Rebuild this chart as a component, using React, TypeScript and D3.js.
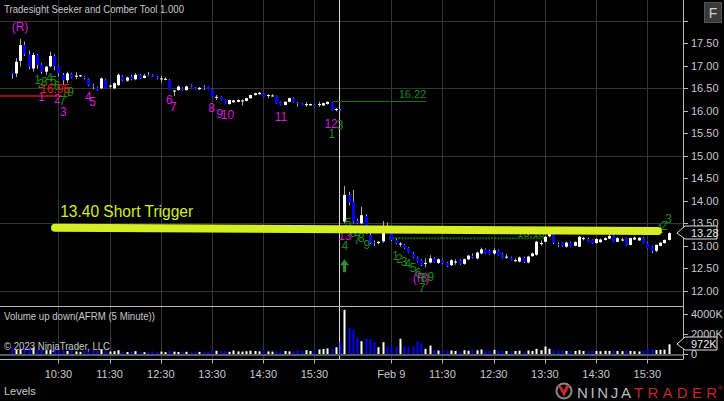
import React from 'react';
import * as d3 from 'd3';

// ---------- DATA ----------
// [open, high, low, close] 5-minute bars, Feb 8 (day 1) and Feb 9 (day 2)
const day1Bars: number[][] = [
  [16.86,16.87,16.71,16.82],[16.83,17.17,16.75,17.09],[17.11,17.60,16.98,17.46],[17.46,17.54,17.22,17.26],
  [17.26,17.34,16.92,16.98],[16.94,17.29,16.87,17.24],[17.24,17.26,16.93,17.02],[17.03,17.06,16.82,16.87],
  [16.87,17.00,16.80,16.98],[16.99,17.31,16.96,17.22],[17.22,17.26,16.90,16.99],[16.99,17.01,16.76,16.83],
  [16.80,16.84,16.57,16.68],[16.68,16.87,16.62,16.83],[16.82,16.84,16.72,16.74],[16.76,16.86,16.70,16.78],
  [16.77,16.80,16.75,16.79],[16.76,16.78,16.70,16.72],[16.70,16.72,16.55,16.57],[16.56,16.60,16.48,16.55],
  [16.52,16.54,16.45,16.47],[16.50,16.74,16.48,16.72],[16.70,16.72,16.50,16.50],[16.55,16.58,16.50,16.56],
  [16.50,16.63,16.48,16.61],[16.57,16.83,16.55,16.80],[16.76,16.79,16.65,16.67],[16.67,16.76,16.65,16.74],
  [16.76,16.80,16.68,16.70],[16.70,16.84,16.68,16.80],[16.80,16.82,16.71,16.73],[16.73,16.82,16.72,16.78],
  [16.80,16.86,16.77,16.78],[16.79,16.81,16.75,16.76],[16.76,16.78,16.70,16.72],[16.71,16.78,16.62,16.72],
  [16.70,16.74,16.68,16.71],[16.68,16.70,16.47,16.48],[16.45,16.46,16.33,16.45],[16.46,16.56,16.45,16.54],
  [16.50,16.52,16.45,16.46],[16.46,16.56,16.45,16.54],[16.57,16.59,16.52,16.54],[16.52,16.53,16.47,16.48],
  [16.48,16.53,16.46,16.51],[16.52,16.57,16.46,16.50],[16.53,16.54,16.47,16.48],[16.48,16.49,16.30,16.31],
  [16.30,16.35,16.24,16.31],[16.31,16.32,16.23,16.24],[16.24,16.25,16.16,16.17],[16.15,16.25,16.14,16.24],
  [16.19,16.24,16.18,16.23],[16.20,16.25,16.19,16.24],[16.23,16.25,16.11,16.23],[16.22,16.29,16.21,16.28],
  [16.28,16.36,16.27,16.35],[16.35,16.40,16.34,16.39],[16.37,16.42,16.36,16.40],[16.39,16.40,16.30,16.31],
  [16.33,16.37,16.28,16.35],[16.34,16.37,16.32,16.34],[16.33,16.34,16.16,16.17],[16.20,16.21,16.12,16.13],
  [16.13,16.21,16.12,16.20],[16.20,16.29,16.19,16.28],[16.28,16.30,16.19,16.20],[16.17,16.20,16.09,16.15],
  [16.17,16.18,16.12,16.13],[16.14,16.20,16.09,16.15],[16.12,16.16,16.11,16.15],[16.13,16.14,16.10,16.11],
  [16.15,16.20,16.09,16.15],[16.12,16.18,16.11,16.17],[16.15,16.21,16.14,16.20],[16.18,16.19,16.01,16.02],
  [16.02,16.06,15.99,16.04],[16.03,16.04,16.00,16.01],
];
const day2Bars: number[][] = [
  [13.54,14.33,13.50,14.13],[14.13,14.20,13.90,13.96],[13.98,14.24,13.50,13.54],[13.56,13.60,13.48,13.50],
  [13.50,13.87,13.48,13.68],[13.66,13.70,13.26,13.28],[13.24,13.30,13.04,13.06],[13.08,13.12,13.00,13.06],
  [13.06,13.10,13.03,13.09],[13.10,13.55,13.07,13.35],[13.36,13.52,13.30,13.32],[13.28,13.32,13.10,13.13],
  [13.13,13.16,13.04,13.06],[13.03,13.08,12.98,13.05],[13.02,13.04,12.93,12.95],[12.95,12.97,12.84,12.85],
  [12.83,12.86,12.72,12.74],[12.74,12.76,12.63,12.65],[12.68,12.70,12.55,12.57],[12.61,12.72,12.52,12.62],
  [12.63,12.79,12.61,12.72],[12.72,12.74,12.62,12.63],[12.62,12.72,12.60,12.70],[12.68,12.70,12.59,12.61],
  [12.62,12.64,12.53,12.55],[12.57,12.70,12.55,12.68],[12.63,12.70,12.58,12.65],[12.68,12.70,12.58,12.60],
  [12.60,12.72,12.58,12.70],[12.70,12.80,12.68,12.78],[12.78,12.83,12.72,12.74],[12.72,12.87,12.70,12.85],
  [12.83,12.96,12.81,12.92],[12.92,12.94,12.82,12.83],[12.89,12.91,12.80,12.82],[12.83,12.95,12.80,12.90],
  [12.90,12.92,12.78,12.79],[12.82,12.84,12.72,12.74],[12.75,12.82,12.71,12.76],[12.74,12.76,12.68,12.69],
  [12.67,12.72,12.64,12.68],[12.65,12.76,12.63,12.74],[12.74,12.76,12.62,12.64],[12.63,12.78,12.61,12.76],
  [12.77,12.85,12.76,12.83],[12.80,13.11,12.78,13.09],[13.05,13.12,13.00,13.06],[13.09,13.22,13.08,13.20],
  [13.21,13.29,13.19,13.27],[13.27,13.28,13.04,13.07],[13.04,13.08,12.97,13.03],[13.07,13.08,12.98,13.00],
  [12.98,13.09,12.96,13.07],[13.06,13.08,12.98,12.99],[13.00,13.10,12.99,13.08],[12.98,13.22,12.97,13.20],
  [13.16,13.20,13.12,13.17],[13.15,13.18,13.08,13.09],[13.13,13.14,13.04,13.05],[13.06,13.17,13.05,13.15],
  [13.08,13.16,13.07,13.14],[13.13,13.19,13.12,13.17],[13.16,13.25,13.15,13.22],[13.24,13.26,13.08,13.09],
  [13.09,13.19,13.08,13.17],[13.13,13.18,13.10,13.14],[13.17,13.18,13.01,13.02],[13.02,13.18,13.01,13.17],
  [13.14,13.20,13.13,13.18],[13.12,13.19,13.11,13.18],[13.18,13.20,13.05,13.06],[13.06,13.08,12.94,12.95],
  [12.98,13.00,12.84,12.89],[12.89,13.03,12.86,13.02],[13.00,13.08,12.99,13.07],[13.06,13.14,13.05,13.13],
  [13.13,13.30,13.12,13.28],
];
// volume in thousands
const day1Volume: number[] = [
  650,420,480,650,560,650,420,460,380,420,500,430,
  350,300,380,260,220,300,480,330,300,420,380,250,
  280,380,250,200,230,280,210,180,220,250,200,240,
  190,350,230,200,250,220,180,260,210,230,200,420,
  320,300,280,220,350,260,240,280,330,300,260,420,
  260,240,320,280,300,260,240,420,320,380,300,380,
  450,500,560,520,680,1180,
];
const day2Volume: number[] = [
  4420,2620,2450,1680,1280,1520,1520,1180,680,1180,750,750,
  750,1520,750,750,750,1280,1080,520,850,410,350,410,
  350,350,300,280,380,330,420,380,450,350,300,420,
  350,330,300,280,300,330,280,350,300,520,380,750,
  520,400,350,330,300,350,300,380,300,280,330,300,
  280,320,300,350,300,280,330,300,280,250,300,520,
  450,400,420,430,972,
];
const timeLabels = ['10:30','11:30','12:30','13:30','14:30','15:30','Feb 9','11:30','12:30','13:30','14:30','15:30'];
const timeLabelBars = [11,23,35,47,59,71,89,101,113,125,137,149];
const priceTicks = [12,12.5,13,13.5,14,14.5,15,15.5,16,16.5,17,17.5];
const priceGridLevels = [12,13.5,15,16.5,18];
const volumeTicks = [0,2000,4000];
// annotations: [bar index, price, text]
const magentaMarks: [number, number, string][] = [
  [2.0,17.86,'(R)'],[7.08,16.31,'1'],[10.73,16.27,'2'],[12.14,15.98,'3'],[18.0,16.31,'4'],[19.03,16.20,'5'],
  [36.98,16.24,'6'],[37.92,16.09,'7'],[46.92,16.06,'8'],[48.75,15.94,'9'],[50.6,15.92,'10'],[63.16,15.86,'11'],
  [74.9,15.72,'12'],[78.15,13.22,'13'],[95.97,12.29,'(R)'],
];
const greenMarks: [number, number, string][] = [
  [6.1,16.68,'1'],[6.9,16.60,'2'],[7.7,16.64,'3'],[8.9,16.73,'4'],[9.84,16.67,'5'],[10.66,16.55,'6'],
  [11.95,16.23,'7'],[12.9,16.41,'8'],[13.83,16.42,'9'],[77.0,15.68,'3'],[75.1,15.48,'1'],
  [78.86,13.51,'5'],[80.03,13.29,'6'],[80.97,13.13,'7'],[82.0,13.18,'8'],[83.3,13.02,'9'],[78.15,13.0,'4'],
  [90.0,12.77,'1'],[90.93,12.71,'2'],[92.0,12.65,'3'],[92.9,12.6,'4'],[94.1,12.51,'5'],[95.3,12.40,'6'],
  [96.7,12.30,'8'],[98.3,12.32,'9'],[96.2,12.06,'7'],
  [151.98,13.37,'1'],[152.9,13.45,'2'],[153.97,13.60,'3'],
];
const redLevel = { price: 16.33, fromBar: -3, toBar: 11.8, label: '16.95', labelBar: 10.2, labelPrice: 16.48 };
const greenLevel = { price: 16.22, fromBar: 75.4, toBar: 97.2, label: '16.22' };
const dottedLevel = { price: 13.17, fromBar: 88.5, toBar: 125, label: '13.18' };
const trigger = { fromBar: 10.2, fromPrice: 13.40, toBar: 151.5, toPrice: 13.33, label: '13.40 Short Trigger', labelBar: 11.4, labelPrice: 13.64 };
const arrowSignal = { bar: 78, price: 12.70 };
const lastPrice = 13.28;
const lastVolume = 972;

// ---------- LAYOUT ----------
const W = 724, H = 401;
const FONT = '"Liberation Sans", Arial, sans-serif';
const AXIS_X = 683;
const PANEL_SEP = 306.5;
const PANEL_BOTTOM = 359.5;
const TEXT = '#c8c8c8';
const GRID = '#353535';
const GREEN = '#1c8a1c';
const MAGENTA = '#d21ed2';
const YELLOW = '#d4ee22';

export default function App() {
  const x = d3.scaleLinear().domain([0, 155]).range([11.5, 11.5 + 155 * 4.267]);
  const y = d3.scaleLinear().domain([12, 17.5]).range([290.8, 43.3]);
  const yv = d3.scaleLinear().domain([0, 4000]).range([354, 314]);

  const bars = day1Bars.concat(day2Bars).map((b, i) => ({ i, o: b[0], h: b[1], l: b[2], c: b[3] }));
  const vols = day1Volume.concat(day2Volume).map((v, i) => ({ i, v, up: bars[i] ? bars[i].c >= bars[i].o : true }));

  const sessionX = Math.round(x(77)) - 0.5;
  const px = (v: number) => Math.round(v);

  const arrowX = px(x(arrowSignal.bar));
  const arrowY = y(arrowSignal.price);

  const lpY = Math.round(y(lastPrice));
  const lvY = Math.round(yv(lastVolume));
  const tag = (cy: number) => `${AXIS_X - 6},${cy} ${AXIS_X + 2},${cy - 7} ${717},${cy - 7} ${717},${cy + 6} ${AXIS_X + 2},${cy + 6}`;

  return (
    <svg width={W} height={H} style={{ position: 'fixed', left: 0, top: 0, background: '#000' }} fontFamily={FONT}>
      <rect x={0} y={0} width={W} height={H} fill="#000" />
      {/* vertical grid */}
      {timeLabelBars.map((b, k) => (
        <line key={'vg' + k} x1={px(x(b)) + 0.5} x2={px(x(b)) + 0.5} y1={0} y2={PANEL_BOTTOM} stroke={GRID} strokeWidth={1} />
      ))}
      {/* horizontal grid */}
      {priceGridLevels.map((p, k) => (
        <line key={'hg' + k} x1={0} x2={AXIS_X} y1={Math.round(y(p)) + 0.5} y2={Math.round(y(p)) + 0.5} stroke={GRID} strokeWidth={1} />
      ))}
      {/* session break */}
      <line x1={sessionX} x2={sessionX} y1={0} y2={PANEL_BOTTOM} stroke="#d8d8d8" strokeWidth={1} />

      {/* levels */}
      <line x1={x(redLevel.fromBar)} x2={x(redLevel.toBar)} y1={y(redLevel.price)} y2={y(redLevel.price)} stroke="#9a0d0d" strokeWidth={2} />
      <line x1={x(greenLevel.fromBar)} x2={x(greenLevel.toBar)} y1={Math.round(y(greenLevel.price)) + 0.5} y2={Math.round(y(greenLevel.price)) + 0.5} stroke="#17701a" strokeWidth={1} />
      <text x={x(greenLevel.toBar)} y={y(greenLevel.price) - 2.5} fill={GREEN} fontSize={11} textAnchor="end">{greenLevel.label}</text>
      <line x1={x(dottedLevel.fromBar)} x2={x(dottedLevel.toBar)} y1={y(dottedLevel.price)} y2={y(dottedLevel.price)} stroke="#17601a" strokeWidth={2} strokeDasharray="2,1" />
      <text x={x(dottedLevel.toBar)} y={y(dottedLevel.price) - 1} fill={GREEN} fontSize={11} textAnchor="end">{dottedLevel.label}</text>

      {/* candles */}
      {bars.map((b) => {
        const cx = px(x(b.i));
        const up = b.c >= b.o;
        const top = y(Math.max(b.o, b.c));
        const bot = y(Math.min(b.o, b.c));
        const hgt = Math.max(1, bot - top);
        return (
          <g key={'c' + b.i}>
            <line x1={cx + 0.5} x2={cx + 0.5} y1={y(b.h)} y2={y(b.l)} stroke="#a8a8a8" strokeWidth={1} />
            <rect x={cx - 1} y={top} width={3} height={hgt} fill={up ? '#ffffff' : '#0000ff'} />
          </g>
        );
      })}

      {/* volume panel */}
      <line x1={0} x2={AXIS_X} y1={PANEL_SEP} y2={PANEL_SEP} stroke="#b8b8b8" strokeWidth={1} />
      <rect x={0} y={354} width={AXIS_X} height={2} fill="#5a5a5a" />
      {vols.map((d) => {
        const cx = px(x(d.i));
        return <rect key={'v' + d.i} x={cx - 0.5} y={yv(d.v)} width={2} height={354 - yv(d.v)} fill={d.up ? '#ffffff' : '#0000ff'} />;
      })}
      <line x1={0} x2={AXIS_X} y1={PANEL_BOTTOM} y2={PANEL_BOTTOM} stroke="#b8b8b8" strokeWidth={1} />

      {/* annotations */}
      {magentaMarks.map(([b, p, t], k) => (
        <text key={'m' + k} x={x(b)} y={y(p)} dy="0.35em" fill={MAGENTA} fontSize={12} textAnchor="middle">{t}</text>
      ))}
      {greenMarks.map(([b, p, t], k) => (
        <text key={'g' + k} x={x(b)} y={y(p)} dy="0.35em" fill={GREEN} fontSize={12} textAnchor="middle">{t}</text>
      ))}
      <text x={x(redLevel.labelBar)} y={y(redLevel.labelPrice)} dy="0.35em" fill="#e01818" fontSize={12} textAnchor="middle">{redLevel.label}</text>

      {/* trigger line */}
      <line x1={x(trigger.fromBar)} y1={y(trigger.fromPrice)} x2={x(trigger.toBar)} y2={y(trigger.toPrice)} stroke={YELLOW} strokeWidth={8} strokeLinecap="round" />
      <text x={x(trigger.labelBar)} y={y(trigger.labelPrice)} fill={YELLOW} fontSize={16} textLength={133} lengthAdjust="spacingAndGlyphs">{trigger.label}</text>

      {/* signal arrow */}
      <path d={`M${arrowX + 0.5},${arrowY} L${arrowX + 5},${arrowY + 6} L${arrowX + 2},${arrowY + 6} L${arrowX + 2},${arrowY + 13} L${arrowX - 1},${arrowY + 13} L${arrowX - 1},${arrowY + 6} L${arrowX - 4},${arrowY + 6} Z`} fill="#2f8f2f" />

      {/* titles */}
      <text x={4} y={12.5} fill={TEXT} fontSize={11} textLength={180} lengthAdjust="spacingAndGlyphs">Tradesight Seeker and Comber Tool 1.000</text>
      <text x={4} y={319.5} fill={TEXT} fontSize={11} textLength={151} lengthAdjust="spacingAndGlyphs">Volume up down(AFRM (5 Minute))</text>
      <text x={4} y={350} fill={TEXT} fontSize={11} textLength={106} lengthAdjust="spacingAndGlyphs">© 2023 NinjaTrader, LLC</text>
      <text x={4} y={394.5} fill={TEXT} fontSize={11}>Levels</text>

      {/* right axis */}
      <line x1={AXIS_X + 0.5} x2={AXIS_X + 0.5} y1={0} y2={PANEL_BOTTOM} stroke="#b8b8b8" strokeWidth={1} />
      {priceTicks.concat([18]).map((p, k) => (
        <line key={'pt' + k} x1={AXIS_X} x2={AXIS_X + 5} y1={Math.round(y(p)) + 0.5} y2={Math.round(y(p)) + 0.5} stroke="#b8b8b8" />
      ))}
      {priceTicks.map((p, k) => (
        <text key={'pl' + k} x={691} y={y(p)} dy="0.35em" fill={TEXT} fontSize={11}>{d3.format('.2f')(p)}</text>
      ))}
      {volumeTicks.map((v, k) => (
        <g key={'vt' + k}>
          <line x1={AXIS_X} x2={AXIS_X + 5} y1={Math.round(yv(v)) + 0.5} y2={Math.round(yv(v)) + 0.5} stroke="#b8b8b8" />
          <text x={691} y={yv(v)} dy="0.35em" fill={TEXT} fontSize={11}>{v === 0 ? '0' : v + 'K'}</text>
        </g>
      ))}
      {/* last value tags */}
      <polygon points={tag(lpY)} fill="#000" stroke="#e0e0e0" strokeWidth={1} />
      <text x={691} y={lpY} dy="0.35em" fill="#e8e8e8" fontSize={11}>{d3.format('.2f')(lastPrice)}</text>
      <polygon points={tag(lvY)} fill="#000" stroke="#e0e0e0" strokeWidth={1} />
      <text x={691} y={lvY} dy="0.35em" fill="#e8e8e8" fontSize={11}>{lastVolume + 'K'}</text>

      {/* time axis */}
      {timeLabelBars.map((b, k) => (
        <g key={'tl' + k}>
          <line x1={px(x(b)) + 0.5} x2={px(x(b)) + 0.5} y1={PANEL_BOTTOM} y2={PANEL_BOTTOM + 4} stroke="#b8b8b8" />
          <text x={x(b)} y={377.5} fill={TEXT} fontSize={11} textAnchor="middle">{timeLabels[k]}</text>
        </g>
      ))}

      {/* F button */}
      <rect x={704.5} y={2.5} width={17} height={20} fill="#3a3a3a" stroke="#555" />
      <text x={713} y={17.5} fill="#d0d0d0" fontSize={14} textAnchor="middle">F</text>

      {/* logo */}
      <circle cx={564} cy={391} r={7.5} fill="none" stroke="#8a8a8a" strokeWidth={2} />
      <path d="M558,386 L564,397 L570,385 L566,385 L564,390 L561,386 Z" fill="#c3282d" />
      <text x={577} y={398} fill="#bcbcbc" fontSize={15} textLength={54} lengthAdjust="spacing">NINJA</text>
      <text x={634} y={398} fill="#c3282d" fontSize={15} textLength={83} lengthAdjust="spacing">TRADER</text>
      <text x={718} y={390} fill="#c3282d" fontSize={6}>®</text>
    </svg>
  );
}
